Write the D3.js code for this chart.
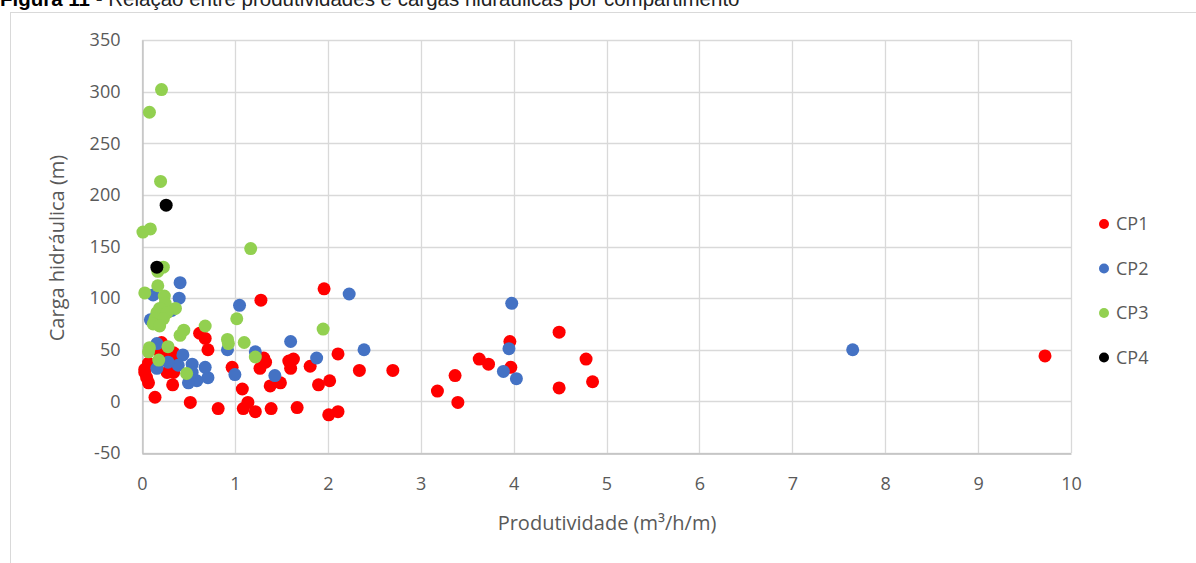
<!DOCTYPE html>
<html><head><meta charset="utf-8">
<script src="https://cdn.jsdelivr.net/npm/d3@7"></script>
<style>body{margin:0;background:#fff;overflow:hidden}</style>
</head><body>
<svg id="c" width="1196" height="563"></svg>
<script>
const seriesNames = ["CP1","CP2","CP3","CP4"];
const seriesColors = ["#ff0000","#4472c4","#92d050","#000000"];
const xTicks = [0,1,2,3,4,5,6,7,8,9,10];
const yTicks = [-50,0,50,100,150,200,250,300,350];
const cp1 = [[9.72,44],[4.85,19],[4.78,41],[4.49,67],[4.49,13],[3.96,58],[3.97,33],[3.73,36],[3.63,41],[3.37,25],[3.40,-1],[3.18,10],[2.70,30],[2.34,30],[2.11,46],[2.11,-10],[2.01,-13],[2.02,20],[1.96,109],[1.90,16],[1.81,34],[1.67,-6],[1.63,41],[1.58,39],[1.60,32],[1.49,18],[1.38,15],[1.39,-7],[1.31,42],[1.33,38],[1.28,98],[1.27,32],[1.22,-10],[1.14,-1],[1.09,-7],[1.08,12],[0.97,33],[0.82,-7],[0.71,50],[0.68,61],[0.62,66],[0.52,-1],[0.33,16],[0.27,28],[0.34,28],[0.34,43],[0.34,47],[0.22,45],[0.21,57],[0.14,4],[0.07,18],[0.05,23],[0.03,28],[0.07,37],[0.03,31],[0.19,48]];
const cp2 = [[7.65,50],[3.98,95],[3.95,51],[3.89,29],[4.03,22],[2.23,104],[2.39,50],[1.88,42],[1.60,58],[1.43,25],[1.22,48],[1.05,93],[1.00,26],[0.92,50],[0.71,23],[0.68,33],[0.59,20],[0.50,18],[0.54,36],[0.54,28],[0.44,45],[0.39,35],[0.28,38],[0.16,32],[0.16,56],[0.09,79],[0.12,103],[0.40,100],[0.41,115],[0.32,88]];
const cp3 = [[0.21,302],[0.08,280],[0.20,213],[0.01,164],[0.09,167],[1.17,148],[0.23,130],[0.17,126],[0.17,112],[0.03,105],[0.24,102],[0.25,95],[0.19,90],[0.16,86],[0.36,90],[0.27,86],[0.14,80],[0.23,80],[0.12,75],[0.19,73],[0.41,64],[0.45,69],[0.68,73],[1.02,80],[1.95,70],[0.92,60],[0.93,56],[1.10,57],[1.22,43],[0.08,52],[0.07,48],[0.28,53],[0.18,40],[0.48,27]];
const cp4 = [[0.16,130],[0.26,190]];
const seriesData = [cp1,cp2,cp3,cp4];

const svg = d3.select("#c");
const F = "'Open Sans', sans-serif";
const t = svg.append("text").attr("x",0).attr("y",6).attr("font-family","'Liberation Sans Narrow','Arial Narrow',sans-serif").attr("font-size",20.5).attr("fill","#000");
t.append("tspan").attr("font-weight","bold").text("Figura 11");
t.append("tspan").attr("fill","#222").text(" - Relação entre produtividades e cargas hidráulicas por compartimento");
svg.append("rect").attr("x",10.5).attr("y",12.5).attr("width",1300).attr("height",700).attr("fill","none").attr("stroke","#d9d9d9");

const x = d3.scaleLinear().domain([0,10]).range([142,1071]);
const y = d3.scaleLinear().domain([-50,350]).range([453,40]);

const g = svg.append("g");
g.selectAll(".hg").data(yTicks).join("line").attr("x1",x(0)).attr("x2",x(10))
 .attr("y1",d=>Math.round(y(d))+0.5).attr("y2",d=>Math.round(y(d))+0.5).attr("stroke","#d9d9d9").attr("stroke-width",1.3);
g.selectAll(".vg").data(xTicks).join("line").attr("y1",y(-50)).attr("y2",y(350))
 .attr("x1",d=>Math.round(x(d))+0.5).attr("x2",d=>Math.round(x(d))+0.5).attr("stroke","#d9d9d9").attr("stroke-width",1.3);
const fmt = d=>String(d);
const xa = svg.append("g").attr("transform",`translate(0,${Math.round(y(-50))+0.5})`).call(d3.axisBottom(x).tickValues(xTicks).tickFormat(fmt).tickSize(0).tickPadding(24));
const ya = svg.append("g").attr("transform",`translate(${Math.round(x(0))+0.5},0)`).call(d3.axisLeft(y).tickValues(yTicks).tickFormat(fmt).tickSize(0).tickPadding(22));
[xa,ya].forEach(a=>{a.select(".domain").attr("stroke","#bfbfbf").attr("stroke-width",1.3);
 a.selectAll("text").attr("font-family",F).attr("font-size",18).attr("fill","#595959");});

seriesData.forEach((arr,i)=>{
  svg.append("g").selectAll("circle").data(arr).join("circle")
   .attr("cx",d=>x(d[0])).attr("cy",d=>y(d[1])).attr("r",6.5).attr("fill",seriesColors[i]);
});

svg.append("text").attr("x",607).attr("y",530).attr("text-anchor","middle").attr("font-family",F).attr("font-size",20).attr("fill","#595959").text("Produtividade (m³/h/m)");
svg.append("text").attr("transform","translate(64,248) rotate(-90)").attr("text-anchor","middle").attr("font-family",F).attr("font-size",20).attr("fill","#595959").text("Carga hidráulica (m)");

const lg = svg.append("g");
seriesNames.forEach((n,i)=>{
  const yy = 224 + i*44.5;
  lg.append("circle").attr("cx",1104).attr("cy",yy).attr("r",5).attr("fill",seriesColors[i]);
  lg.append("text").attr("x",1116).attr("y",yy).attr("dy","0.35em").attr("font-family",F).attr("font-size",18).attr("fill","#595959").text(n);
});
</script>
</body></html>
